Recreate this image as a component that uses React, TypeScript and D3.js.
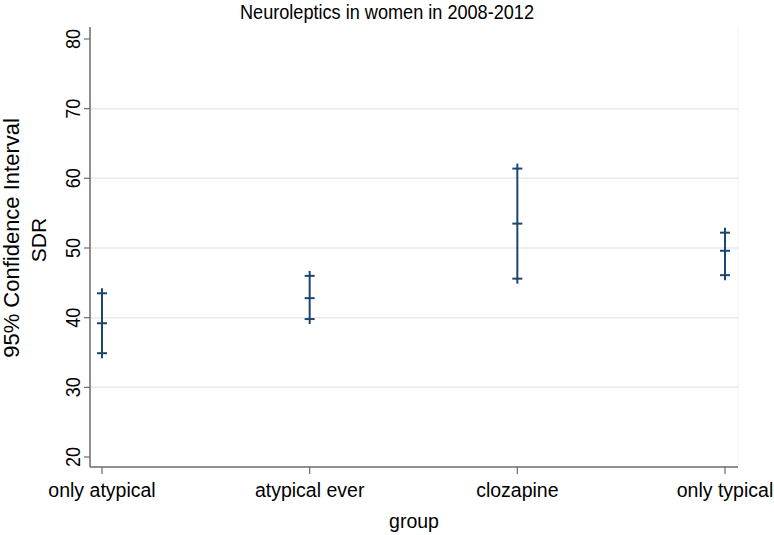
import React from "react";
import * as d3 from "d3";

const categories = ["only atypical", "atypical ever", "clozapine", "only typical"];
const meanValues = [39.2, 42.8, 53.5, 49.6];
const lowerValues = [34.9, 39.8, 45.6, 46.1];
const upperValues = [43.5, 46.0, 61.4, 52.2];
const yTicks = [20, 30, 40, 50, 60, 70, 80];
const gridTicks = [30, 40, 50, 60, 70];

const W = 774;
const H = 535;
const FONT = "Arial, 'Liberation Sans', Helvetica, sans-serif";

export default function App() {
  const left = 90;
  const right = 738;
  const top = 27;
  const bottom = 467;

  const x = d3.scalePoint<string>().domain(categories).range([102, 725]);
  const y = d3.scaleLinear().domain([20, 80]).range([457, 39]);

  const color = "#1a476f";
  const axisColor = "#6b6b6b";
  const cap = 5;

  return (
    <svg
      width={W}
      height={H}
      style={{ position: "absolute", left: 0, top: 0, background: "#fff" }}
      fontFamily={FONT}
    >
      <rect x={0} y={0} width={W} height={H} fill="#ffffff" />
      {/* faint plot region right border */}
      <line x1={right} x2={right} y1={top} y2={bottom} stroke="#f7f7f7" strokeWidth={1.5} />
      {/* gridlines */}
      {gridTicks.map((t) => (
        <line
          key={"g" + t}
          x1={left}
          x2={right}
          y1={y(t)}
          y2={y(t)}
          stroke="#eaeaea"
          strokeWidth={1.5}
        />
      ))}
      {/* y axis */}
      <line x1={left} x2={left} y1={top} y2={bottom} stroke={axisColor} strokeWidth={1.5} />
      {yTicks.map((t) => (
        <g key={"yt" + t}>
          <line x1={left - 6} x2={left} y1={y(t)} y2={y(t)} stroke={axisColor} strokeWidth={1.2} />
          <text
            transform={`translate(80,${y(t)}) rotate(-90)`}
            textAnchor="middle"
            fontSize={21}
            textLength={20}
            lengthAdjust="spacingAndGlyphs"
            fill="#000"
          >
            {t}
          </text>
        </g>
      ))}
      {/* x axis */}
      <line x1={left} x2={right} y1={bottom} y2={bottom} stroke={axisColor} strokeWidth={1.5} />
      {categories.map((c) => (
        <g key={"xt" + c}>
          <line x1={x(c)!} x2={x(c)!} y1={bottom} y2={bottom + 7} stroke={axisColor} strokeWidth={1.2} />
          <text x={x(c)!} y={497} textAnchor="middle" fontSize={19.5} fill="#000">
            {c}
          </text>
        </g>
      ))}
      {/* error bars */}
      {categories.map((c, i) => {
        const cx = x(c)!;
        const pts = [lowerValues[i], meanValues[i], upperValues[i]];
        return (
          <g key={"eb" + c} stroke={color} strokeWidth={2}>
            <line x1={cx} x2={cx} y1={y(lowerValues[i]) + cap} y2={y(upperValues[i]) - cap} />
            {pts.map((v, j) => (
              <line key={j} x1={cx - cap} x2={cx + cap} y1={y(v)} y2={y(v)} />
            ))}
          </g>
        );
      })}
      {/* titles */}
      <text
        x={387}
        y={19}
        textAnchor="middle"
        fontSize={20.5}
        textLength={294}
        lengthAdjust="spacingAndGlyphs"
        fill="#000"
      >
        Neuroleptics in women in 2008-2012
      </text>
      <text x={414} y={528} textAnchor="middle" fontSize={19.5} fill="#000">
        group
      </text>
      <text transform="translate(19,238) rotate(-90)" textAnchor="middle" fontSize={22} fill="#000">
        95% Confidence Interval
      </text>
      <text transform="translate(46,240) rotate(-90)" textAnchor="middle" fontSize={21} fill="#000">
        SDR
      </text>
    </svg>
  );
}
